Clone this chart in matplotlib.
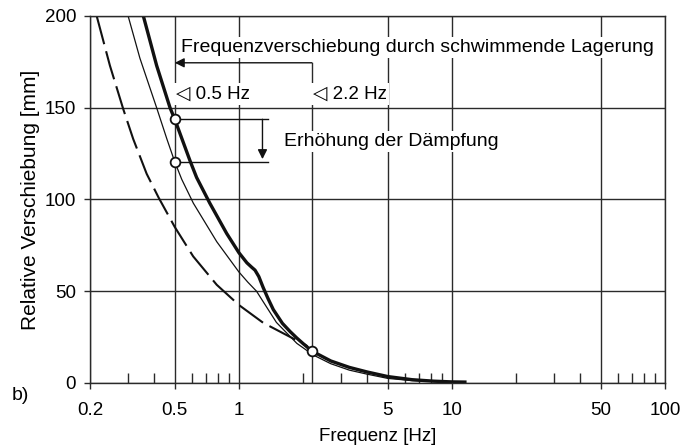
import numpy as np
import matplotlib
matplotlib.use("Agg")
import matplotlib.pyplot as plt
from matplotlib.ticker import FixedLocator, NullFormatter

plt.rcParams['font.family'] = ['Liberation Sans', 'DejaVu Sans']

# Kurven (Frequenz [Hz], Verschiebung [mm])
f_dick = [0.356, 0.411, 0.475, 0.5, 0.59, 0.633, 0.73, 0.876, 1.0, 1.09, 1.15, 1.19, 1.24, 1.30, 1.37, 1.45, 1.6, 1.74, 1.87, 2.0, 2.2, 2.7, 3.3, 4.0, 5.0, 6.5, 8.2, 10.0, 11.5]
v_dick = [200, 173, 150, 143.7, 121, 112, 98, 81.5, 71, 65.5, 63, 61.5, 58, 52, 46, 40, 32.5, 28, 24.5, 21.5, 17.4, 12, 8.5, 6, 3.5, 1.8, 1.0, 0.6, 0.5]

f_duenn = [0.302, 0.343, 0.411, 0.459, 0.5, 0.539, 0.611, 0.787, 1.0, 1.1, 1.21, 1.30, 1.5, 1.87, 2.23, 2.7, 3.3, 4.0, 5.0, 6.5, 8.2, 10.0, 11.5]
v_duenn = [200, 177, 150, 133, 120.5, 111, 98, 77, 60.5, 55, 50, 44.3, 33, 21.6, 15.3, 10.5, 7, 4.8, 2.5, 1.3, 0.8, 0.5, 0.4]

f_strich = [0.215, 0.248, 0.287, 0.319, 0.369, 0.42, 0.5, 0.61, 0.787, 1.0, 1.3, 1.8, 2.0, 2.1]
v_strich = [200, 173, 149, 133, 114, 101, 85, 69, 53.5, 42.5, 32.8, 24.2, 21.5, 20]

# Markierte Punkte
f_punkte = [0.5, 0.5, 2.2]
v_punkte = [143.7, 120.5, 17.4]

x_major = [0.2, 0.5, 1, 5, 10, 50, 100]
x_labels = ['0.2', '0.5', '1', '5', '10', '50', '100']
x_minor = [0.3, 0.4, 0.6, 0.7, 0.8, 0.9, 2, 3, 4, 6, 7, 8, 9, 20, 30, 40, 60, 70, 80, 90]
y_major = [0, 50, 100, 150, 200]

fig = plt.figure(figsize=(6.96, 4.48), dpi=100)
ax = fig.add_axes([0.1293, 0.1451, 0.8262, 0.8192])
ax.set_xscale('log')
ax.set_xlim(0.2, 100)
ax.set_ylim(0, 200)

gc = '#2a2a2a'
ax.xaxis.set_major_locator(FixedLocator(x_major))
ax.set_xticklabels(x_labels)
ax.xaxis.set_minor_locator(FixedLocator(x_minor))
ax.xaxis.set_minor_formatter(NullFormatter())
ax.set_yticks(y_major)
ax.tick_params(axis='both', which='major', direction='out', length=4, width=1, color=gc, labelsize=13.5)
ax.tick_params(axis='x', which='major', pad=10)
ax.tick_params(axis='y', which='major', pad=6)
ax.tick_params(axis='x', which='minor', direction='in', length=7, width=1, color=gc)
ax.grid(True, which='major', color=gc, linewidth=1)
ax.set_axisbelow(True)
for s in ax.spines.values():
    s.set_color(gc)
    s.set_linewidth(1)

# zusaetzliche Linie bei 2.2 Hz
ax.plot([2.2, 2.2], [0, 174.5], color=gc, lw=1, zorder=0.6)

ax.plot(f_strich, v_strich, color='#111111', lw=1.5, linestyle=(0, (14, 3.5)), zorder=2)
ax.plot(f_duenn, v_duenn, color='#111111', lw=0.9, zorder=2)
ax.plot(f_dick, v_dick, color='#111111', lw=2.4, zorder=2.1)
ax.plot(f_punkte, v_punkte, linestyle='none', marker='o', ms=7, mfc='white', mec='#111111', mew=1.3, zorder=4)

# Frequenzverschiebung
ax.annotate('', xy=(0.5, 174.5), xytext=(2.2, 174.5),
            arrowprops=dict(arrowstyle='-|>', color='#111111', lw=1, mutation_scale=14, shrinkA=0, shrinkB=0), zorder=4)
box = dict(facecolor='white', edgecolor='none', pad=1.5)
ax.text(0.535, 183, 'Frequenzverschiebung durch schwimmende Lagerung', fontsize=14, va='center', ha='left', bbox=box, zorder=3)
ax.text(0.505, 157.5, '◁ 0.5 Hz', fontsize=13.5, va='center', ha='left', bbox=box, zorder=3)
ax.text(2.22, 157.5, '◁ 2.2 Hz', fontsize=13.5, va='center', ha='left', bbox=box, zorder=3)

# Erhoehung der Daempfung
ax.plot([0.5, 1.37], [143.7, 143.7], color='#111111', lw=1, zorder=3)
ax.plot([0.5, 1.37], [120.5, 120.5], color='#111111', lw=1, zorder=3)
ax.annotate('', xy=(1.29, 122), xytext=(1.29, 143.7),
            arrowprops=dict(arrowstyle='-|>', color='#111111', lw=1, mutation_scale=14, shrinkA=0, shrinkB=0), zorder=4)
ax.text(1.63, 131.5, 'Erhöhung der Dämpfung', fontsize=14, va='center', ha='left', bbox=box, zorder=3)

ax.set_xlabel('Frequenz [Hz]', fontsize=13.5, labelpad=6)
ax.set_ylabel('Relative Verschiebung [mm]', fontsize=15, labelpad=3)
fig.text(0.017, 0.118, 'b)', fontsize=14, va='center', ha='left')

fig.savefig('out.png', dpi=100)
